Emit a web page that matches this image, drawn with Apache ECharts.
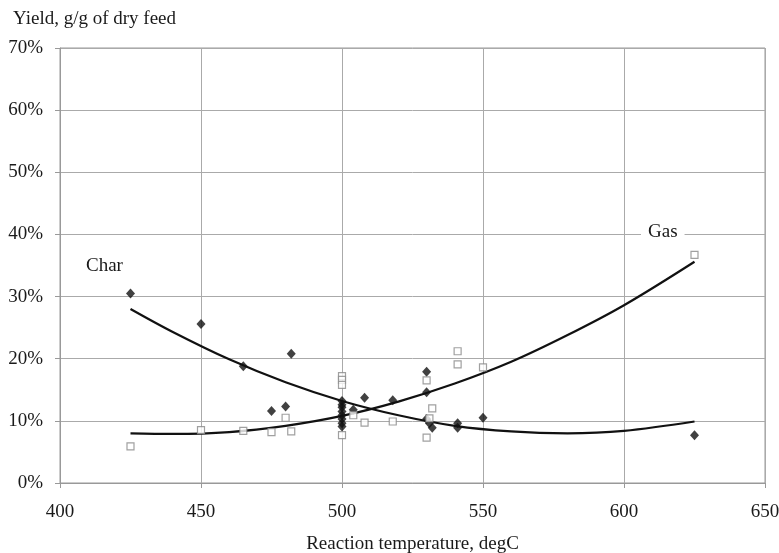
<!DOCTYPE html>
<html><head><meta charset="utf-8">
<script src="https://cdn.jsdelivr.net/npm/echarts@6/dist/echarts.min.js"></script>
<style>html,body{margin:0;padding:0;background:#fff}#c{width:779px;height:553px}</style>
</head><body><div id="c"></div>
<script>
// Data (yield in %)
const charT = [425,450,465,475,480,482,500,500,500,500,500,500,500,500,504,508,518,530,530,530,531,532,541,541,550,625];
const charY = [30.5,25.6,18.8,11.6,12.3,20.8,13.2,12.6,12.2,11.5,10.9,10.3,9.6,9.1,11.8,13.7,13.3,17.9,14.6,10.3,9.6,8.9,9.6,8.9,10.5,7.7];
const gasT = [425,450,465,475,480,482,500,500,500,500,504,508,518,530,530,531,532,541,541,550,625];
const gasY = [5.9,8.5,8.4,8.2,10.5,8.3,17.2,16.6,15.8,7.7,10.9,9.7,9.9,16.5,7.3,10.4,12.0,21.2,19.1,18.6,36.7];
// Trend lines
const trendT = [425,440,460,480,500,520,540,560,580,600,625];
const charTrend = [28.0,24.3,19.9,16.2,13.2,10.9,9.2,8.3,8.0,8.4,9.9];
const gasTrend = [8.0,7.9,8.2,9.2,10.8,13.1,16.0,19.5,23.8,28.6,35.6];
const xTicks = [400,450,500,550,600,650];
const yTicks = [0,10,20,30,40,50,60,70];

const zip = (a,b) => a.map((v,i)=>[v,b[i]]);
const font = 'Liberation Serif';
const chart = echarts.init(document.getElementById('c'), null, {renderer:'canvas'});
chart.setOption({
  animation:false,
  backgroundColor:'#fff',
  textStyle:{fontFamily:font},
  grid:{left:60,right:14,top:48,bottom:70,containLabel:false,outerBoundsMode:'none',show:true,borderColor:'#999',borderWidth:1},
  xAxis:{type:'value',min:xTicks[0],max:xTicks[xTicks.length-1],interval:50,
    name:'Reaction temperature, degC',nameLocation:'middle',nameGap:52,
    nameTextStyle:{fontFamily:font,fontSize:19,color:'#1a1a1a'},
    axisLine:{show:true,lineStyle:{color:'#999'}},
    axisTick:{show:true,length:5,lineStyle:{color:'#999'}},
    axisLabel:{fontFamily:font,fontSize:19,color:'#1a1a1a',margin:20,hideOverlap:false},
    splitLine:{show:true,lineStyle:{color:'#aaa',width:1}}},
  yAxis:{type:'value',min:yTicks[0],max:yTicks[yTicks.length-1],interval:10,
    axisLine:{show:true,lineStyle:{color:'#999'}},
    axisTick:{show:true,length:5,lineStyle:{color:'#999'}},
    axisLabel:{fontFamily:font,fontSize:19,color:'#1a1a1a',margin:17,formatter:'{value}%'},
    splitLine:{show:true,lineStyle:{color:'#aaa',width:1}}},
  graphic:[
    {type:'text',left:13,top:10,z:100,style:{text:'Yield, g/g of dry feed',font:'19px "Liberation Serif"',fill:'#1a1a1a'}},
    {type:'text',left:86,top:257,z:100,style:{text:'Char',font:'19px "Liberation Serif"',fill:'#1a1a1a'}},
    {type:'text',left:641,top:223,z:100,style:{text:'Gas',font:'19px "Liberation Serif"',fill:'#1a1a1a',backgroundColor:'#fff',padding:[0,7,0,7]}}
  ],
  series:[
    {type:'line',data:zip(trendT,charTrend),smooth:0.35,showSymbol:false,lineStyle:{color:'#111',width:2.2},z:3},
    {type:'line',data:zip(trendT,gasTrend),smooth:0.35,showSymbol:false,lineStyle:{color:'#111',width:2.2},z:3},
    {type:'scatter',data:zip(charT,charY),symbol:'diamond',symbolSize:[9,10],itemStyle:{color:'#111'},z:4},
    {type:'scatter',data:zip(gasT,gasY),symbol:'rect',symbolSize:7,itemStyle:{color:'#fff',borderColor:'#888',borderWidth:1.2},z:5}
  ]
});
</script></body></html>
